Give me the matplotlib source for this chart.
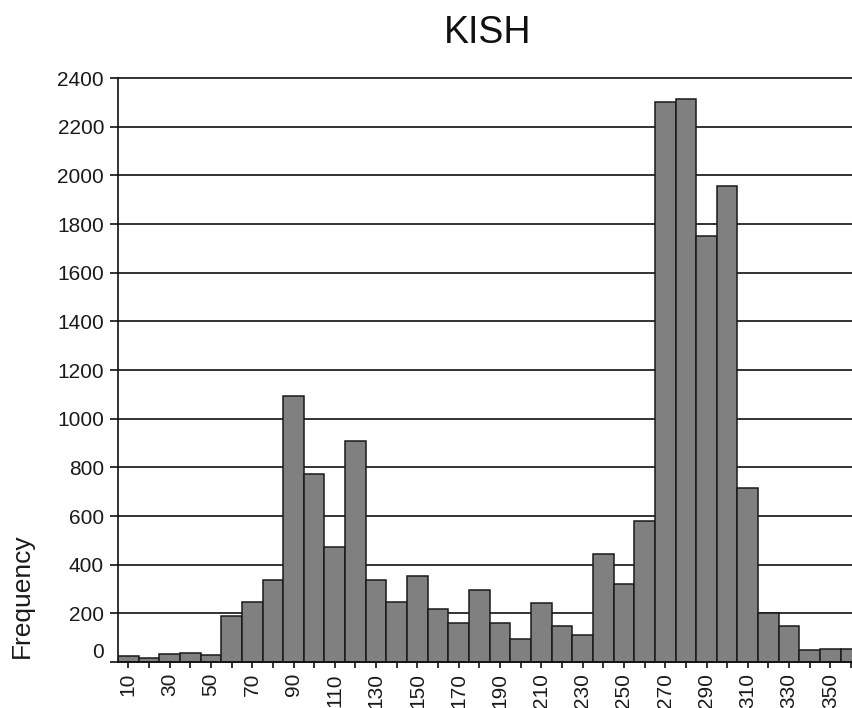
import matplotlib
matplotlib.use('Agg')
import matplotlib.pyplot as plt
from matplotlib.transforms import ScaledTranslation

# Data
bin_centers = [10, 20, 30, 40, 50, 60, 70, 80, 90, 100, 110, 120, 130, 140, 150,
               160, 170, 180, 190, 200, 210, 220, 230, 240, 250, 260, 270, 280,
               290, 300, 310, 320, 330, 340, 350, 360]
frequency = [25, 15, 32, 38, 30, 189, 247, 337, 1095, 772, 472, 909, 337, 247, 355,
             218, 162, 296, 162, 93, 241, 149, 110, 444, 321, 580, 2300, 2315,
             1752, 1958, 714, 200, 149, 49, 55, 55]
x_tick_labels = ["10", "", "30", "", "50", "", "70", "", "90", "", "110", "", "130", "",
                 "150", "", "170", "", "190", "", "210", "", "230", "", "250", "",
                 "270", "", "290", "", "310", "", "330", "", "350", ""]
y_ticks = [0, 200, 400, 600, 800, 1000, 1200, 1400, 1600, 1800, 2000, 2200, 2400]
y_tick_labels = ["0", "200", "400", "600", "800", "1000", "1200", "1400", "1600",
                 "1800", "2000", "2200", "2400"]

plt.rcParams['font.family'] = ['Liberation Sans', 'DejaVu Sans']

W, H = 853, 708
fig = plt.figure(figsize=(W / 100, H / 100), dpi=100)
left_px, bottom_px, top_px = 118, 662, 78
ax_w_px = 360 * 2.065
ax = fig.add_axes([left_px / W, (H - bottom_px) / H, ax_w_px / W, (bottom_px - top_px) / H])

ax.bar(bin_centers, frequency, width=10, color='#808080', edgecolor='#1a1a1a',
       linewidth=1.1, zorder=3)

ax.set_xlim(5, 365)
ax.set_ylim(0, 2400)

ax.set_yticks(y_ticks)
ax.set_yticklabels(y_tick_labels)
ax.set_xticks(bin_centers)
ax.set_xticklabels(x_tick_labels, rotation=90)

ax.grid(axis='y', color='#111111', linewidth=1.2, zorder=0)
ax.set_axisbelow(True)
for gl in ax.get_ygridlines():
    gl.set_clip_on(False)
for s in ['top', 'right']:
    ax.spines[s].set_visible(False)
for s in ['left', 'bottom']:
    ax.spines[s].set_color('#111111')
    ax.spines[s].set_linewidth(1.2)
    ax.spines[s].set_zorder(4)

ax.tick_params(axis='y', length=6, width=1.2, color='#111111', labelsize=15,
               pad=4, labelcolor='#1a1a1a')
ax.tick_params(axis='x', length=4, width=1.2, color='#111111', labelsize=15,
               pad=4, labelcolor='#1a1a1a')

# raise the "0" label a little, as in the reference
for lab in ax.get_yticklabels():
    if lab.get_text() == "0":
        lab.set_transform(lab.get_transform() + ScaledTranslation(0, 0.11, fig.dpi_scale_trans))

fig.text(488 / W, 1 - 33 / H, "KISH", ha='center', va='center', fontsize=27, color='#111111')
fig.text(22 / W, 1 - 596 / H, "Frequency", ha='center', va='center', rotation=90,
         fontsize=19, color='#1a1a1a')

fig.savefig('out.png', dpi=100)
